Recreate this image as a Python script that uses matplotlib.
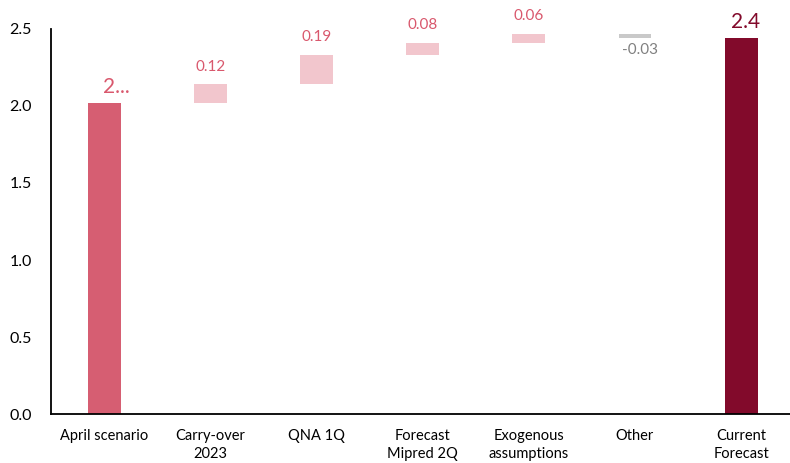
import matplotlib
matplotlib.use("Agg")
import matplotlib.pyplot as plt
import numpy as np

plt.rcParams['font.family'] = ['Lato', 'DejaVu Sans']

categories = ["April scenario", "Carry-over\n2023", "QNA 1Q", "Forecast\nMipred 2Q",
              "Exogenous\nassumptions", "Other", "Current\nForecast"]
april_scenario = 2.02
contributions = [0.12, 0.19, 0.08, 0.06, -0.03]
current_forecast = april_scenario + sum(contributions)

rose = "#D65E72"
pink = "#F2C6CD"
grey = "#C9C9C9"
wine = "#820A2B"
label_pink = "#D9586D"

fig = plt.figure(figsize=(7.9, 4.63), dpi=100)
ax = fig.add_axes([0.0646, 0.1058, 0.9354, 0.8316])

x = np.arange(len(categories))
width = 0.31

# totals at both ends
ax.bar(x[0], april_scenario, width=width, color=rose)
ax.bar(x[-1], current_forecast, width=width, color=wine)

# floating steps in between
level = april_scenario
for i, c in enumerate(contributions, start=1):
    bottom = level if c >= 0 else level + c
    color = pink if c >= 0 else grey
    ax.bar(x[i], abs(c), bottom=bottom, width=width, color=color)
    if c >= 0:
        ax.text(x[i], level + c + 0.07, f"{c:.2f}", ha="center", va="bottom",
                fontsize=11, color=label_pink)
    else:
        ax.text(x[i] + 0.05, level + c - 0.03, f"{c:.2f}", ha="center", va="top",
                fontsize=11, color="#808080")
    level += c

ax.text(x[0] + 0.12, april_scenario + 0.04, "2...", ha="center", va="bottom",
        fontsize=15, color=label_pink)
ax.text(x[-1] + 0.04, current_forecast + 0.04, f"{current_forecast:.1f}", ha="center",
        va="bottom", fontsize=15, color=wine)

ax.set_xlim(-0.5, 6.46)
ax.set_ylim(0, 2.5)
ax.set_yticks(np.arange(0, 2.51, 0.5))
ax.set_yticklabels([f"{v:.1f}" for v in np.arange(0, 2.51, 0.5)], fontsize=11.5)
ax.set_xticks(x)
ax.set_xticklabels(categories, fontsize=10.5, linespacing=1.3)
ax.tick_params(axis="both", length=0)
ax.tick_params(axis="y", pad=14)
ax.tick_params(axis="x", pad=11)
ax.spines["top"].set_visible(False)
ax.spines["right"].set_visible(False)
ax.spines["left"].set_linewidth(1.3)
ax.spines["bottom"].set_linewidth(1.3)

fig.savefig("out.png", dpi=100)
